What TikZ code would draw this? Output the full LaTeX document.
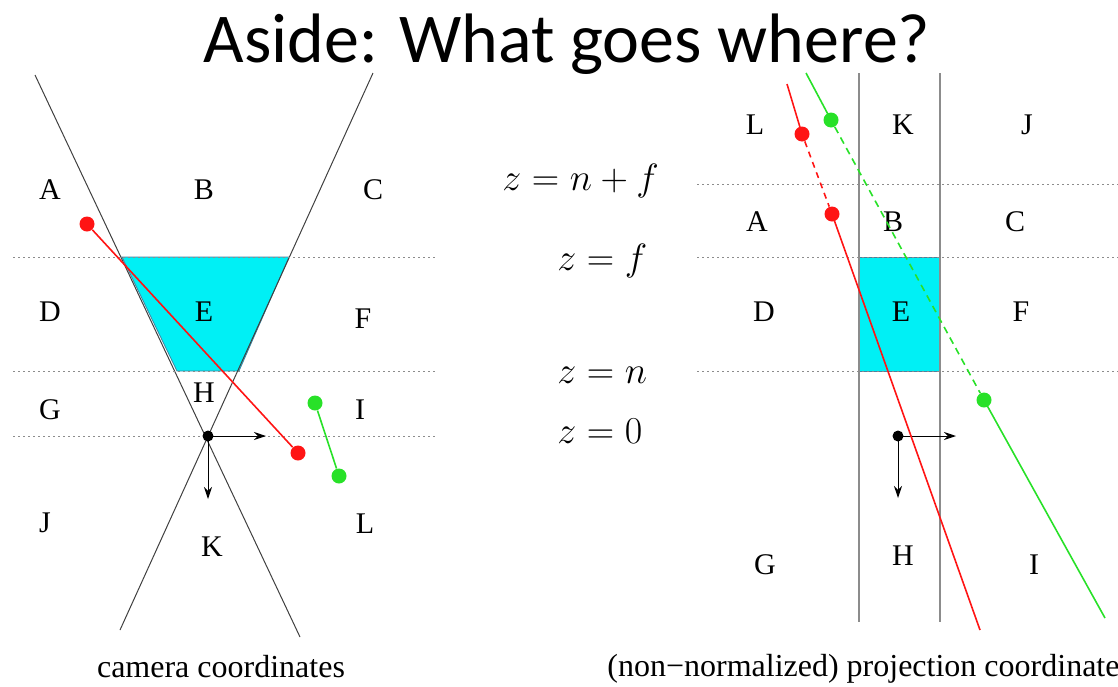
\RequirePackage{fix-cm}
\documentclass[tikz,border=0pt]{standalone}
\usepackage{amsmath, amssymb}
\usepackage{fontspec}
\setmainfont{Liberation Serif}
\newfontfamily\titlefont{Carlito}
\usetikzlibrary{positioning, arrows.meta}

\definecolor{ptred}{RGB}{255,20,20}
\definecolor{ptgreen}{RGB}{40,225,40}
\definecolor{boxcyan}{RGB}{0,240,245}

\tikzset{
  region/.style={font=\fontsize{15}{18}\selectfont, inner sep=0pt},
  eqn/.style={font=\fontsize{19}{22}\selectfont, inner sep=0pt},
  caption/.style={font=\fontsize{16}{19}\selectfont, inner sep=0pt},
  conline/.style={line width=0.5pt, black!75},
  slabline/.style={line width=0.7pt, black!45},
  gridline/.style={line width=0.4pt, black!45, dash pattern=on 1pt off 1.5pt},
  reddot/.style={circle, fill=ptred, minimum size=7.5pt, inner sep=0pt},
  greendot/.style={circle, fill=ptgreen, minimum size=7.5pt, inner sep=0pt},
  camdot/.style={circle, fill=black, minimum size=5.5pt, inner sep=0pt},
  redline/.style={line width=0.8pt, ptred},
  greenline/.style={line width=0.8pt, ptgreen},
  axis/.style={line width=0.5pt, -{Stealth[length=6pt, width=4pt]}},
  viewbox/.style={fill=boxcyan, draw=cyan!60!black, line width=0.4pt}
}

\begin{document}
\begin{tikzpicture}[x=0.5pt, y=-0.5pt]
	\useasboundingbox (0,0) rectangle (1118,686);
	
	% 标题
	\node (title) [anchor=base, font=\titlefont\fontsize{35}{40}\selectfont, inner sep=0pt] at (567,62) {Aside: What goes where?};
	
	% ---------------------- 左图：相机坐标 ----------------------
	\def\zf{257}  % z=f 所在行
	\def\zn{371}  % z=n 所在行
	\def\zo{436}  % z=0 所在行
	
	% 视锥体（青色梯形）
	\fill[viewbox] (122,\zf) -- (289,\zf) -- (239,\zn) -- (177,\zn) -- cycle;
	
	% 两条视锥边线，在相机处交叉
	\coordinate (flt) at (35,75);
	\coordinate (flb) at (300,637);
	\coordinate (frt) at (373,73);
	\coordinate (frb) at (120,630);
	\draw[conline] (flt) -- (flb);
	\draw[conline] (frt) -- (frb);
	
	% 水平虚线
	\foreach \y in {\zf,\zn,\zo} {
		\draw[gridline] (13,\y) -- (437,\y);
	}
	
	% 区域字母
	\foreach \name/\x/\y in {A/50/190, B/204/190, C/373/190, D/50/312, E/204/312, F/363/319,
		G/50/410, H/204/393, I/360/410, J/45/523, K/212/547, L/365/524} {
		\node (c\name) [region] at (\x,\y) {\name};
	}
	
	% 相机与坐标轴
	\node (cam) [camdot] at (208,\zo) {};
	\coordinate (camx) at (266,\zo);
	\coordinate (camz) at (208,499);
	\draw[axis] (cam.center) -- (camx);
	\draw[axis] (cam.center) -- (camz);
	
	% 红色与绿色线段
	\node (ra) [reddot] at (87,224) {};
	\node (rb) [reddot] at (298,453) {};
	\draw[redline] (ra) -- (rb);
	\node (ga) [greendot] at (315,403) {};
	\node (gb) [greendot] at (339,476) {};
	\draw[greenline] (ga) -- (gb);
	
	\node (camcap) [caption, anchor=base] at (221,677) {camera coordinates};
	
	% ---------------------- 中间：深度标注 ----------------------
	\node (eqnf) [eqn, anchor=base west] at (502,190) {$z = n + f$};
	\node (eqf)  [eqn, anchor=base west] at (557,270) {$z = f$};
	\node (eqn)  [eqn, anchor=base west] at (557,383) {$z = n$};
	\node (eq0)  [eqn, anchor=base west] at (557,443) {$z = 0$};
	
	% ---------------------- 右图：投影坐标 ----------------------
	\fill[viewbox] (859,\zf) rectangle (940,\zn);
	
	% 两条竖线
	\foreach \x in {859,940} {
		\draw[slabline] (\x,73) -- (\x,622);
	}
	
	% 水平虚线
	\foreach \y in {184,\zf,\zn} {
		\draw[gridline] (697,\y) -- (1118,\y);
	}
	
	% 区域字母
	\foreach \name/\x/\y in {L/755/125, K/903/125, J/1027/125, A/757/222, B/893/222, C/1015/222,
		D/764/312, E/901/312, F/1021/312, G/765/565, H/903/556, I/1034/565} {
		\node (p\name) [region] at (\x,\y) {\name};
	}
	
	% 原点与坐标轴
	\node (org) [camdot] at (898,\zo) {};
	\coordinate (orgx) at (956,\zo);
	\coordinate (orgz) at (898,498);
	\draw[axis] (org.center) -- (orgx);
	\draw[axis] (org.center) -- (orgz);
	
	% 红线：两点之间为虚线
	\coordinate (prt) at (787,84);
	\coordinate (prb) at (980,630);
	\node (pra) [reddot] at (802,134) {};
	\node (prb2) [reddot] at (832,214) {};
	\draw[redline] (prt) -- (pra.center);
	\draw[redline, dash pattern=on 3pt off 2.5pt] (pra) -- (prb2);
	\draw[redline] (prb2.center) -- (prb);
	
	% 绿线：两点之间为虚线
	\coordinate (pgt) at (806,73);
	\coordinate (pgb) at (1105,618);
	\node (pga) [greendot] at (831,120) {};
	\node (pgb2) [greendot] at (984,400) {};
	\draw[greenline] (pgt) -- (pga.center);
	\draw[greenline, dash pattern=on 3.5pt off 2.5pt] (pga) -- (pgb2);
	\draw[greenline] (pgb2.center) -- (pgb);
	
	\node (prjcap) [caption, anchor=base west] at (607,676) {(non−normalized) projection coordinates};
\end{tikzpicture}
\end{document}
